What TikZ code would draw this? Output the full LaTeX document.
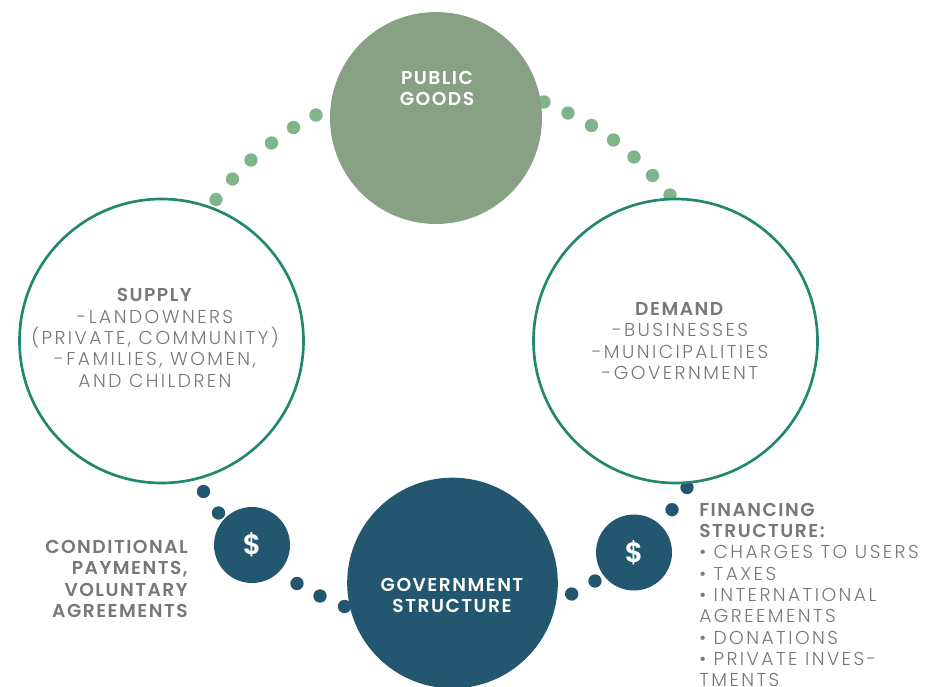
\documentclass[tikz,border=0pt]{standalone}
\usepackage{fontspec}
\setmainfont{Poppins Light}[LetterSpace=13,BoldFont=Poppins SemiBold,BoldFeatures={LetterSpace=8}]
\definecolor{ringgreen}{HTML}{21876F}
\definecolor{goodsgreen}{HTML}{88A184}
\definecolor{dotgreen}{HTML}{80B48A}
\definecolor{govblue}{HTML}{23566F}
\definecolor{textgray}{HTML}{77787B}
\begin{document}
\begin{tikzpicture}[
		x=0.75pt,y=-0.75pt,
		goodsvertex/.style={circle,fill=goodsgreen,inner sep=0pt,minimum size=159pt},
		ringvertex/.style={circle,draw=ringgreen,fill=white,line width=2pt,inner sep=0pt,minimum size=213pt},
		govvertex/.style={circle,fill=govblue,inner sep=0pt,minimum size=158pt},
		moneyvertex/.style={circle,fill=govblue,text=white,inner sep=0pt,minimum size=57pt,font=\fontsize{21}{21}\selectfont\bfseries},
		greendot/.style={circle,fill=dotgreen,inner sep=0pt,minimum size=10pt},
		bluedot/.style={circle,fill=govblue,inner sep=0pt,minimum size=10pt},
		whitelabel/.style={text=white,align=center,font=\fontsize{14}{16}\selectfont\bfseries},
		graylabel/.style={text=textgray,align=center,font=\fontsize{14}{16}\selectfont},
		]
		\clip (0,0) rectangle (928,686);
		
		\foreach \i/\x/\y in {1/316/115,2/293.5/127.5,3/271.5/143,4/251/160,5/232.5/179,6/216/199.5,
			7/544/102,8/568/113,9/591.5/125.5,10/613.5/140,11/634/157,12/652.5/175.5,13/670/195}
			\node[greendot](G\i) at (\x,\y){};
		\foreach \i/\x/\y in {1/203.5/491.5,2/218.5/513,3/297/583.5,4/320/596,5/344.5/606.5,
			6/571.7/594,7/595/581,8/672/509.7,9/687/487.5}
			\node[bluedot](B\i) at (\x,\y){};
		
		\node[goodsvertex](S0) at (436,118){};
		\node[ringvertex](S1) at (161.5,341){};
		\node[ringvertex](S2) at (675.5,341){};
		\node[govvertex](S3) at (452.5,583){};
		\node[moneyvertex](M1) at (252,545){\$};
		\node[moneyvertex](M2) at (634,552.5){\$};
		
		\node[whitelabel](L0) at (437,88.5){PUBLIC\\GOODS};
		\node[whitelabel](L3) at (452,595.5){GOVERNMENT\\STRUCTURE};
		\node[graylabel](L1) at (155,338){\textbf{SUPPLY}\\-LANDOWNERS\\(PRIVATE, COMMUNITY)\\-FAMILIES, WOMEN,\\AND CHILDREN};
		\node[graylabel](L2) at (680,341){\textbf{DEMAND}\\-BUSINESSES\\-MUNICIPALITIES\\-GOVERNMENT};
		\node[graylabel,align=right,anchor=east,inner xsep=0pt,font=\fontsize{14}{16}\selectfont\bfseries](L4) at (188,579){CONDITIONAL\\PAYMENTS,\\VOLUNTARY\\AGREEMENTS};
		\node[graylabel,align=left,anchor=west,inner xsep=0pt](L5) at (699,595){\textbf{FINANCING}\\\textbf{STRUCTURE:}\\• CHARGES TO USERS\\• TAXES\\• INTERNATIONAL\\AGREEMENTS\\• DONATIONS\\• PRIVATE INVES-\\TMENTS};
	\end{tikzpicture}
\end{document}
